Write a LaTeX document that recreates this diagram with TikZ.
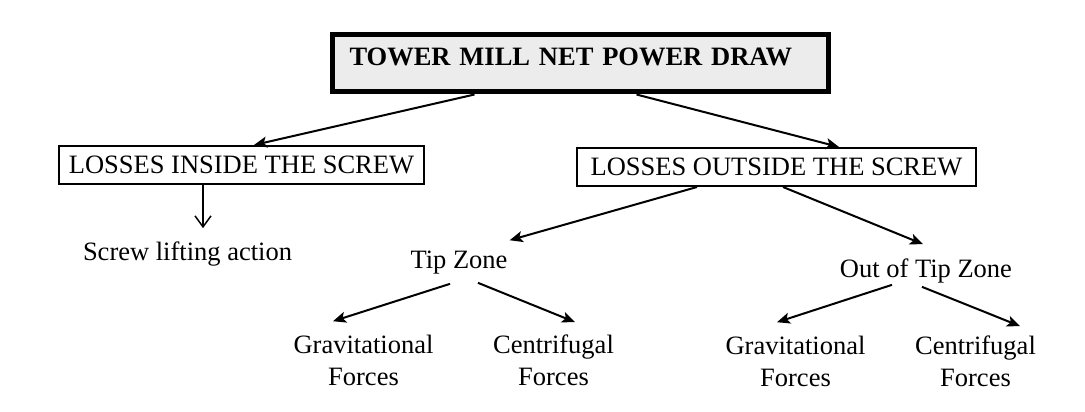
\documentclass[tikz,border=0pt]{standalone}
\usepackage{fontspec}
\setmainfont{Liberation Serif}
\usepackage{tikz}
\usetikzlibrary{arrows.meta}

\begin{document}
\begin{tikzpicture}[x=1pt, y=-1pt,
    every node/.style={font=\fontsize{26.5}{31.5}\selectfont},
    titleBox/.style={rectangle, draw=black, line width=5pt, fill=gray!15,
        inner xsep=17.5pt, inner ysep=0pt, text width=461pt, align=left,
        text height=30.5pt, text depth=26.5pt,
        font=\fontsize{26.5}{31.5}\selectfont\bfseries},
    lossBox/.style={rectangle, draw=black, line width=2pt, minimum height=38pt, inner xsep=0pt},
    leafText/.style={align=center, inner sep=5pt},
    branch/.style={-{Stealth[length=13pt, width=11pt, inset=3pt]}, line width=2pt},
    liftArrow/.style={-{Straight Barb[length=11pt, width=16pt]}, line width=1.5pt}
  ]
  \useasboundingbox (0,0) rectangle (1085,412);

  \node[titleBox, anchor=north west] (title) at (329.5,32.5) {TOWER MILL NET POWER DRAW};

  \node[lossBox, minimum width=365pt] (lossIn) at (241.5,165) {LOSSES INSIDE THE SCREW};
  \node[lossBox, minimum width=399pt] (lossOut) at (776.5,167) {LOSSES OUTSIDE THE SCREW};

  \node[leafText, anchor=base] (screwLift) at (187.5,260) {Screw lifting action};
  \node[leafText, anchor=base] (tipZone) at (459,268) {Tip Zone};
  \node[leafText, anchor=base] (outTip) at (926,277) {Out of Tip Zone};

  \node[leafText] (gravTip) at (363.5,360.5) {Gravitational\\Forces};
  \node[leafText] (centTip) at (553.5,360.5) {Centrifugal\\Forces};
  \node[leafText] (gravOut) at (795.5,361.5) {Gravitational\\Forces};
  \node[leafText] (centOut) at (975.5,361.5) {Centrifugal\\Forces};

  \draw[branch] ([xshift=-105.5pt]title.south) -- ([xshift=12.5pt]lossIn.north);
  \draw[branch] ([xshift=56.5pt]title.south) -- ([xshift=62.5pt]lossOut.north);
  \draw[liftArrow] ([xshift=-38.5pt]lossIn.south) -- ([xshift=15.5pt, yshift=8pt]screwLift.north);
  \draw[branch] ([xshift=-79.5pt]lossOut.south) -- ([xshift=-3pt, yshift=5pt]tipZone.north east);
  \draw[branch] ([xshift=6.5pt]lossOut.south) -- ([xshift=-3pt, yshift=9pt]outTip.north);
  \draw[branch] ([xshift=-9pt, yshift=-5pt]tipZone.south) -- ([xshift=-30.5pt, yshift=9pt]gravTip.north);
  \draw[branch] ([xshift=19pt, yshift=-4pt]tipZone.south) -- ([xshift=21.5pt, yshift=8pt]centTip.north);
  \draw[branch] ([xshift=-34pt, yshift=3pt]outTip.south) -- ([xshift=-18.5pt, yshift=9pt]gravOut.north);
  \draw[branch] ([xshift=-4pt, yshift=1pt]outTip.south) -- ([xshift=44.5pt, yshift=5pt]centOut.north);
\end{tikzpicture}
\end{document}
